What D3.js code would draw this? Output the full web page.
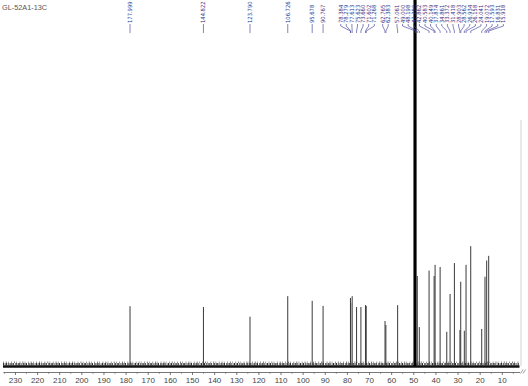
<!DOCTYPE html>
<html>
<head>
<meta charset="utf-8">
<script src="https://cdn.jsdelivr.net/npm/d3@7"></script>
<style>
  body { margin: 0; background: #fff; }
  svg { display: block; }
</style>
</head>
<body>
<div id="chart"></div>
<script>
// spectrum title
const title = "GL-52A1-13C";

// peak positions (ppm) and relative heights
const peakPpm = [
  177.999, 144.822, 123.790, 106.726, 95.678, 90.767,
  78.384, 78.279, 77.613, 75.623, 73.660, 71.602, 71.268,
  62.765, 62.383, 57.061,
  49.638, 49.426, 49.213, 49.000, 48.787, 48.198, 47.280,
  42.862, 40.583, 40.149, 37.874, 34.861, 33.372, 31.418,
  28.903, 28.562, 26.934, 26.158, 24.041, 19.072, 17.593, 16.831, 15.918
];
const peakHeight = [
  16.6, 16.4, 13.7, 19.4, 18.1, 16.7,
  18.9, 17.5, 19.4, 16.4, 16.4, 16.9, 16.7,
  12.5, 11.4, 16.9,
  104, 110, 112, 110, 104, 25.0, 10.8,
  26.5, 25.0, 28.1, 27.5, 9.5, 20.0, 28.6,
  10.0, 23.4, 9.8, 28.1, 33.3, 10.3, 24.8, 29.3, 30.6
];
// solvent lines that carry no label
const unlabelledPpm = [49.638, 49.426, 49.213, 48.787];

// axis ticks
const majorTicks = [230, 220, 210, 200, 190, 180, 170, 160, 150, 140, 130, 120, 110, 100, 90, 80, 70, 60, 50, 40, 30, 20, 10];
const minorTicks = [235, 225, 215, 205, 195, 185, 175, 165, 155, 145, 135, 125, 115, 105, 95, 85, 75, 65, 55, 45, 35, 25, 15, 5];

const ppmRange = [235.4, 2];

const width = 528, height = 386;
const margin = { left: 3, right: 8.5, top: 6, bottom: 20 };

const svg = d3.select("#chart").append("svg")
  .attr("width", width)
  .attr("height", height);

const x = d3.scaleLinear()
  .domain(ppmRange)
  .range([margin.left, width - margin.right]);

const y = d3.scaleLinear()
  .domain([0, 100])
  .range([366, margin.top]);

// title
svg.append("text")
  .attr("x", 2)
  .attr("y", 9.5)
  .attr("font-family", "'Liberation Sans', Arial, sans-serif")
  .attr("font-size", "7.3px")
  .attr("fill", "#555")
  .text(title);

// faint frame line at the right
svg.append("line")
  .attr("x1", x(ppmRange[1]) + 1.5).attr("x2", x(ppmRange[1]) + 1.5)
  .attr("y1", 120).attr("y2", y(0))
  .attr("stroke", "#c8c8c8")
  .attr("stroke-width", 0.8);

// baseline noise band
const base = svg.append("g");
base.append("line")
  .attr("x1", x(ppmRange[0])).attr("x2", x(ppmRange[1]))
  .attr("y1", y(0) + 0.5).attr("y2", y(0) + 0.5)
  .attr("stroke", "#111")
  .attr("stroke-width", 2.4);
base.append("line")
  .attr("x1", x(ppmRange[0])).attr("x2", x(ppmRange[1]))
  .attr("y1", y(0) - 1.8).attr("y2", y(0) - 1.8)
  .attr("stroke", "#1e1e1e")
  .attr("stroke-width", 2.6)
  .attr("stroke-dasharray", "1 0.7 0.8 0.5 1.2 1.1 0.7 0.6")
  .attr("opacity", 0.9);
base.append("line")
  .attr("x1", x(ppmRange[0])).attr("x2", x(ppmRange[1]))
  .attr("y1", y(0) - 3.8).attr("y2", y(0) - 3.8)
  .attr("stroke", "#333")
  .attr("stroke-width", 1.4)
  .attr("stroke-dasharray", "0.7 2.1 0.9 1.4 0.6 2.6")
  .attr("opacity", 0.7);

// peaks
const peaks = peakPpm.map((p, i) => ({ ppm: p, h: peakHeight[i] }));

svg.append("g")
  .selectAll("line")
  .data(peaks)
  .enter()
  .append("line")
  .attr("x1", d => x(d.ppm))
  .attr("x2", d => x(d.ppm))
  .attr("y1", y(0))
  .attr("y2", d => Math.max(0, y(d.h)))
  .attr("stroke", d => d.h > 50 ? "#000" : "#3a3a3a")
  .attr("stroke-width", d => d.h > 50 ? 1.2 : 1);

// x axis
const axisY = 372;
const xAxisCall = d3.axisBottom(x)
  .tickValues(majorTicks)
  .tickSize(3)
  .tickSizeOuter(0)
  .tickPadding(2.5)
  .tickFormat(d3.format("d"));

const gx = svg.append("g")
  .attr("transform", "translate(0," + axisY + ")")
  .call(xAxisCall);
gx.select(".domain").attr("stroke", "#555").attr("stroke-width", 0.8);
gx.selectAll(".tick line").attr("stroke", "#555").attr("stroke-width", 0.8);
gx.selectAll("text")
  .attr("font-family", "'Liberation Sans', Arial, sans-serif")
  .attr("font-size", "8px")
  .attr("fill", "#444");

svg.append("g")
  .attr("transform", "translate(0," + axisY + ")")
  .call(d3.axisBottom(x).tickValues(minorTicks).tickSize(1.8).tickSizeOuter(0).tickFormat(""))
  .call(g => g.select(".domain").remove())
  .selectAll(".tick line").attr("stroke", "#666").attr("stroke-width", 0.7);

// axis break mark
const bx = x(ppmRange[1]) + 1;
[0, 2.5].forEach(o => {
  svg.append("line")
    .attr("x1", bx + o).attr("y1", axisY + 1.5)
    .attr("x2", bx + o + 2.5).attr("y2", axisY - 2.5)
    .attr("stroke", "#777").attr("stroke-width", 0.7);
});

// peak labels: group neighbouring peaks, centre each group, push apart
const gap = 5.6;
const maxLabelX = 524;
const sorted = peaks
  .filter(d => unlabelledPpm.indexOf(d.ppm) < 0)
  .sort((a, b) => x(a.ppm) - x(b.ppm));
let clusters = [];
sorted.forEach(d => {
  const last = clusters[clusters.length - 1];
  if (last && x(d.ppm) - x(last.items[last.items.length - 1].ppm) < 8) {
    last.items.push(d); last.sum += x(d.ppm);
  } else {
    clusters.push({ items: [d], sum: x(d.ppm) });
  }
});
const start = c => Math.min(
  c.sum / c.items.length - (c.items.length - 1) * gap / 2,
  maxLabelX - (c.items.length - 1) * gap);
let merged = true;
while (merged) {
  merged = false;
  for (let k = 0; k < clusters.length - 1; k++) {
    const a = clusters[k], b = clusters[k + 1];
    const aEnd = start(a) + (a.items.length - 1) * gap;
    if (aEnd + gap > start(b)) {
      clusters.splice(k, 2, { items: a.items.concat(b.items), sum: a.sum + b.sum });
      merged = true;
      break;
    }
  }
}
const labels = [];
clusters.forEach(c => {
  const s = start(c);
  c.items.forEach((d, i) => labels.push({ d: d, lx: s + i * gap }));
});

const lab = svg.append("g");
const textBottom = 23;
lab.selectAll("path")
  .data(labels)
  .enter()
  .append("path")
  .attr("d", l => {
    const px = x(l.d.ppm);
    return "M" + l.lx + "," + (textBottom + 1) +
      "L" + l.lx + "," + (textBottom + 3) +
      "L" + px + "," + (textBottom + 8) +
      "L" + px + "," + (textBottom + 10);
  })
  .attr("fill", "none")
  .attr("stroke", "#44449a")
  .attr("stroke-width", 0.65);

lab.selectAll("text")
  .data(labels)
  .enter()
  .append("text")
  .attr("transform", l => "translate(" + l.lx + "," + textBottom + ") rotate(-90)")
  .attr("dy", "0.35em")
  .attr("font-family", "'Liberation Sans Narrow', 'DejaVu Sans Condensed', sans-serif")
  .attr("font-size", "5.8px")
  .attr("fill", "#2f2f88")
  .text(l => l.d.ppm.toFixed(3));
</script>
</body>
</html>
